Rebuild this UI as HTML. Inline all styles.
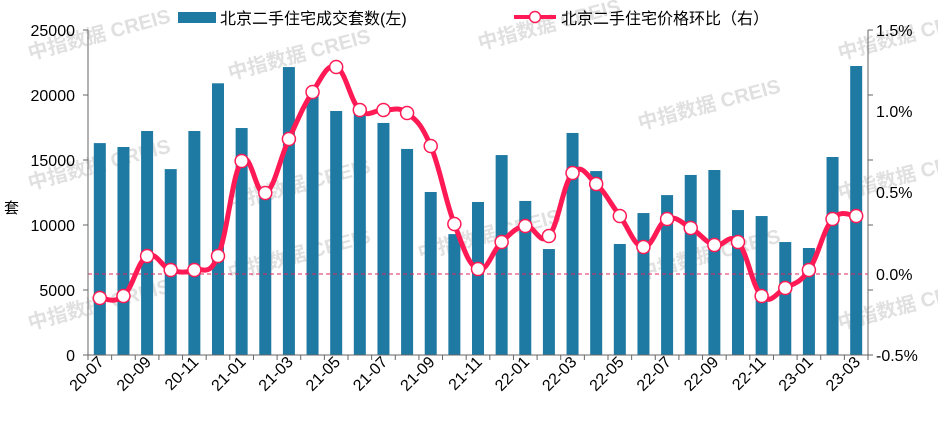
<!DOCTYPE html>
<html><head><meta charset="utf-8"><style>
html,body{margin:0;padding:0;background:#fff;}
svg{display:block;font-family:"Liberation Sans","Noto Sans CJK SC",sans-serif;}
</style></head><body>
<svg id="c" width="938" height="423" viewBox="0 0 938 423" xmlns="http://www.w3.org/2000/svg">
<g id="wm" fill="#d9d9d9" font-size="20" font-weight="bold" opacity="0.8"></g>
<g id="bars" fill="#1f7aa3"></g>
<line x1="88" y1="274" x2="868" y2="274" stroke="#e0245e" stroke-width="1" stroke-dasharray="4,3"/>
<line x1="88" y1="30" x2="88" y2="355" stroke="#666"/>
<line x1="868" y1="30" x2="868" y2="355" stroke="#666"/>
<line x1="88" y1="355" x2="868" y2="355" stroke="#666"/>
<g id="ticks" stroke="#666"></g>
<g font-size="16" fill="#000" text-anchor="end">
<text x="75" y="36">25000</text><text x="75" y="101">20000</text><text x="75" y="166">15000</text>
<text x="75" y="231">10000</text><text x="75" y="296">5000</text><text x="75" y="361">0</text>
</g>
<g font-size="16" fill="#000" text-anchor="start">
<text x="876" y="36">1.5%</text><text x="876" y="117">1.0%</text><text x="876" y="198">0.5%</text>
<text x="876" y="280">0.0%</text><text x="876" y="361">-0.5%</text>
</g>
<text x="4" y="213" font-size="15">套</text>
<g id="xl" font-size="16" fill="#000"></g>
<path id="ln" fill="none" stroke="#ff1a55" stroke-width="5" stroke-linejoin="round"/>
<g id="mk" fill="#fff" stroke="#ff1a55" stroke-width="1.5"></g>
<rect x="178" y="12" width="38" height="11" fill="#1f7aa3"/>
<text x="220" y="24" font-size="16">北京二手住宅成交套数(左)</text>
<line x1="514" y1="17" x2="556" y2="17" stroke="#ff1a55" stroke-width="4"/>
<circle cx="535" cy="17" r="5.5" fill="#fff" stroke="#ff1a55" stroke-width="1.5"/>
<text x="561" y="24" font-size="16">北京二手住宅价格环比（右）</text>
</svg>
<script>
var ns="http://www.w3.org/2000/svg";
function el(t,a,p,txt){var e=document.createElementNS(ns,t);for(var k in a)e.setAttribute(k,a[k]);if(txt)e.textContent=txt;document.getElementById(p).appendChild(e);return e;}
var v=[16300,16000,17230,14300,17230,20900,17460,12500,22150,20000,18770,18700,17850,15850,12540,9300,11770,15380,11850,8150,17080,14150,8540,10920,12300,13850,14230,11150,10690,8690,8230,15230,22230];
var ly=[298,296,256,270,270,256,161,193,139,92,67,110,110,113,146,224,269,242,226,236,173,184,216,247,219,228,245,242,296,288,270,219,216];
var s=780/33,pts=[];
for(var i=0;i<33;i++){var cx=88+s/2+i*s;var h=v[i]*0.013;
el('rect',{x:cx-6,y:355-h,width:12,height:h},'bars');
pts.push([cx,ly[i]]);}
for(var i=0;i<=33;i++){var x=88+i*s;el('line',{x1:x,y1:355,x2:x,y2:360},'ticks');}
for(var i=0;i<=5;i++){el('line',{x1:83,y1:30+i*65,x2:88,y2:30+i*65},'ticks');el('line',{x1:868,y1:30+i*65,x2:873,y2:30+i*65},'ticks');}
var lab=["20-07","20-09","20-11","21-01","21-03","21-05","21-07","21-09","21-11","22-01","22-03","22-05","22-07","22-09","22-11","23-01","23-03"];
for(var j=0;j<17;j++){var cx=88+s/2+j*2*s+5;el('text',{x:cx,y:363,'text-anchor':'end',transform:'rotate(-45 '+cx+' 363)'},'xl',lab[j]);}
var d="M"+pts[0][0]+","+pts[0][1];
for(var i=0;i<32;i++){var p0=pts[Math.max(i-1,0)],p1=pts[i],p2=pts[i+1],p3=pts[Math.min(i+2,32)];var t=0.2;
d+=" C"+(p1[0]+(p2[0]-p0[0])*t)+","+(p1[1]+(p2[1]-p0[1])*t)+" "+(p2[0]-(p3[0]-p1[0])*t)+","+(p2[1]-(p3[1]-p1[1])*t)+" "+p2[0]+","+p2[1];}
document.getElementById('ln').setAttribute('d',d);
pts.forEach(function(p){el('circle',{cx:p[0],cy:p[1],r:6.5},'mk');});
var wm=[[30,60],[230,80],[480,50],[30,190],[230,210],[640,130],[30,330],[230,280],[420,260],[640,280],[840,60],[840,200],[840,330]];
wm.forEach(function(w){el('text',{x:w[0],y:w[1],transform:'rotate(-15 '+w[0]+' '+w[1]+')'},'wm','中指数据  CREIS');});
</script>
</body></html>
